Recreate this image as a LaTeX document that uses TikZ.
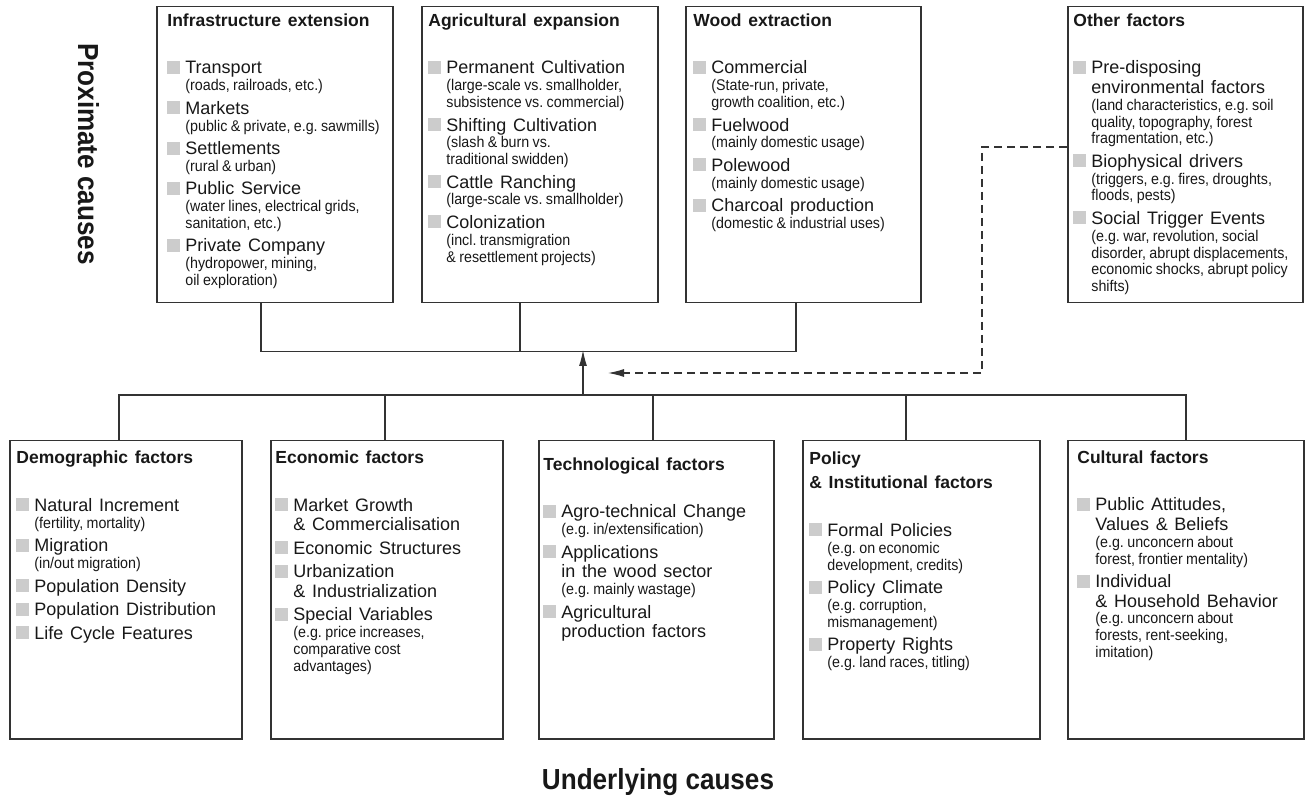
\documentclass[tikz,border=0pt]{standalone}
\usepackage{fontspec}
\setmainfont{Liberation Sans}
\newfontfamily\subfam[FakeStretch=0.92]{Liberation Sans}
\newfontfamily\bigfam[FakeStretch=0.9]{Liberation Sans}
\usetikzlibrary{arrows.meta,calc}
\definecolor{boxgray}{RGB}{51,51,51}
\definecolor{sqgray}{RGB}{204,204,204}
\definecolor{inkgray}{RGB}{24,24,24}
\frenchspacing

\newlength{\sqind}\setlength{\sqind}{9pt}
\newcommand{\mainsize}{\fontsize{9pt}{9.75pt}\selectfont}
\newcommand{\subsize}{\subfam\fontsize{7.75pt}{8.4pt}\selectfont\spaceskip=0.22em}
\newcommand{\fsq}{\llap{\makebox[\sqind][l]{\textcolor{sqgray}{\rule{6.5pt}{6.5pt}}}}}
\newcommand{\ttl}[1]{{\fontsize{8.75pt}{12pt}\selectfont\bfseries #1\par}\vspace{12pt}}
\newcommand{\fitem}[2]{\par\vspace{2pt}%
  {\mainsize\leftskip=\sqind\noindent\fsq#1\par}%
  \if\relax\detokenize{#2}\relax\else{\subsize\leftskip=\sqind\noindent#2\par}\fi}

\begin{document}
\begin{tikzpicture}[x=0.5pt, y=-0.5pt,
    every node/.style={inner sep=0pt, text=inkgray},
    causebox/.style={draw=boxgray, line width=0.75pt, anchor=north west},
    topbox/.style={causebox, minimum width=118pt, minimum height=148pt},
    botbox/.style={causebox, minimum height=149pt},
    boxtext/.style={anchor=base west, text width=120pt, align=left},
    link/.style={draw=boxgray, line width=0.6pt},
    tip/.style={-{Latex[length=8pt,width=4pt]}},
    bigtitle/.style={font=\bigfam\bfseries\fontsize{14.5pt}{16pt}\selectfont}
    ]
    \useasboundingbox (0,0) rectangle (1306,801);

    % proximate causes
    \node (infra) [topbox] at (156,6) {};
    \node (agri) [topbox] at (421,6) {};
    \node (wood) [topbox, minimum width=117.5pt] at (685,6) {};
    \node (other) [topbox, minimum width=117.5pt] at (1067,6) {};

    \node (infraT) [boxtext] at (167,26.5) {\ttl{Infrastructure extension}
      \fitem{Transport}{(roads, railroads, etc.)}
      \fitem{Markets}{(public \& private, e.g. sawmills)}
      \fitem{Settlements}{(rural \& urban)}
      \fitem{Public Service}{(water lines, electrical grids,\\ sanitation, etc.)}
      \fitem{Private Company}{(hydropower, mining,\\ oil exploration)}};
    \node (agriT) [boxtext] at (428,26.5) {\ttl{Agricultural expansion}
      \fitem{Permanent Cultivation}{(large-scale vs. smallholder,\\ subsistence vs. commercial)}
      \fitem{Shifting Cultivation}{(slash \& burn vs.\\ traditional swidden)}
      \fitem{Cattle Ranching}{(large-scale vs. smallholder)}
      \fitem{Colonization}{(incl. transmigration\\ \& resettlement projects)}};
    \node (woodT) [boxtext] at (693,26.5) {\ttl{Wood extraction}
      \fitem{Commercial}{(State-run, private,\\ growth coalition, etc.)}
      \fitem{Fuelwood}{(mainly domestic usage)}
      \fitem{Polewood}{(mainly domestic usage)}
      \fitem{Charcoal production}{(domestic \& industrial uses)}};
    \node (otherT) [boxtext] at (1073,26.5) {\ttl{Other factors}
      \fitem{Pre-disposing\\ environmental factors}{(land characteristics, e.g. soil\\ quality, topography, forest\\ fragmentation, etc.)}
      \fitem{Biophysical drivers}{(triggers, e.g. fires, droughts,\\ floods, pests)}
      \fitem{Social Trigger Events}{(e.g. war, revolution, social\\ disorder, abrupt displacements,\\ economic shocks, abrupt policy\\ shifts)}};

    % underlying causes
    \node (demo) [botbox, minimum width=116pt] at (9,440) {};
    \node (econ) [botbox, minimum width=116pt] at (270,440) {};
    \node (tech) [botbox, minimum width=117.5pt] at (538,440) {};
    \node (poli) [botbox, minimum width=118.5pt] at (802,440) {};
    \node (cult) [botbox, minimum width=118pt] at (1067,440) {};

    \node (demoT) [boxtext] at (16,464) {\ttl{Demographic factors}
      \fitem{Natural Increment}{(fertility, mortality)}
      \fitem{Migration}{(in/out migration)}
      \fitem{Population Density}{}
      \fitem{Population Distribution}{}
      \fitem{Life Cycle Features}{}};
    \node (econT) [boxtext] at (275,464) {\ttl{Economic factors}
      \fitem{Market Growth\\ \& Commercialisation}{}
      \fitem{Economic Structures}{}
      \fitem{Urbanization\\ \& Industrialization}{}
      \fitem{Special Variables}{(e.g. price increases,\\ comparative cost\\ advantages)}};
    \node (techT) [boxtext] at (543,470.5) {\ttl{Technological factors}
      \fitem{Agro-technical Change}{(e.g. in/extensification)}
      \fitem{Applications\\ in the wood sector}{(e.g. mainly wastage)}
      \fitem{Agricultural\\ production factors}{}};
    \node (poliT) [boxtext] at (809,465) {\ttl{Policy\\ \& Institutional factors}
      \fitem{Formal Policies}{(e.g. on economic\\ development, credits)}
      \fitem{Policy Climate}{(e.g. corruption,\\ mismanagement)}
      \fitem{Property Rights}{(e.g. land races, titling)}};
    \node (cultT) [boxtext] at (1077,463.5) {\ttl{Cultural factors}
      \fitem{Public Attitudes,\\ Values \& Beliefs}{(e.g. unconcern about\\ forest, frontier mentality)}
      \fitem{Individual\\ \& Household Behavior}{(e.g. unconcern about\\ forests, rent-seeking,\\ imitation)}};

    \node (prox) [bigtitle, rotate=-90] at (88.5,154) {Proximate causes};
    \node (under) [bigtitle] at (658,782) {Underlying causes};

    % the connectors
    \coordinate (topbar) at (583,350);
    \coordinate (botbar) at (583,395);
    \coordinate (dashend) at (608,373);
    \draw[link] ($(infra.south west)+(105,0)$) |- ($(wood.south west)+(111,48)$) -- ($(wood.south west)+(111,0)$);
    \draw[link] ($(agri.south west)+(99,0)$) -- ++(0,48);
    \draw[link] ($(demo.north west)+(110,0)$) |- ($(cult.north west)+(119,-45)$) -- ($(cult.north west)+(119,0)$);
    \foreach \b/\dx in {econ/115, tech/115, poli/104}
      \draw[link] ($(\b.north west)+(\dx,0)$) -- ++(0,-45);
    \draw[link, tip] (botbar) -- (topbar);
    \draw[link, tip, dash pattern=on 4pt off 2.5pt] ($(other.north west)+(0,141)$) -- ++(-85,0) |- (dashend);
\end{tikzpicture}
\end{document}
